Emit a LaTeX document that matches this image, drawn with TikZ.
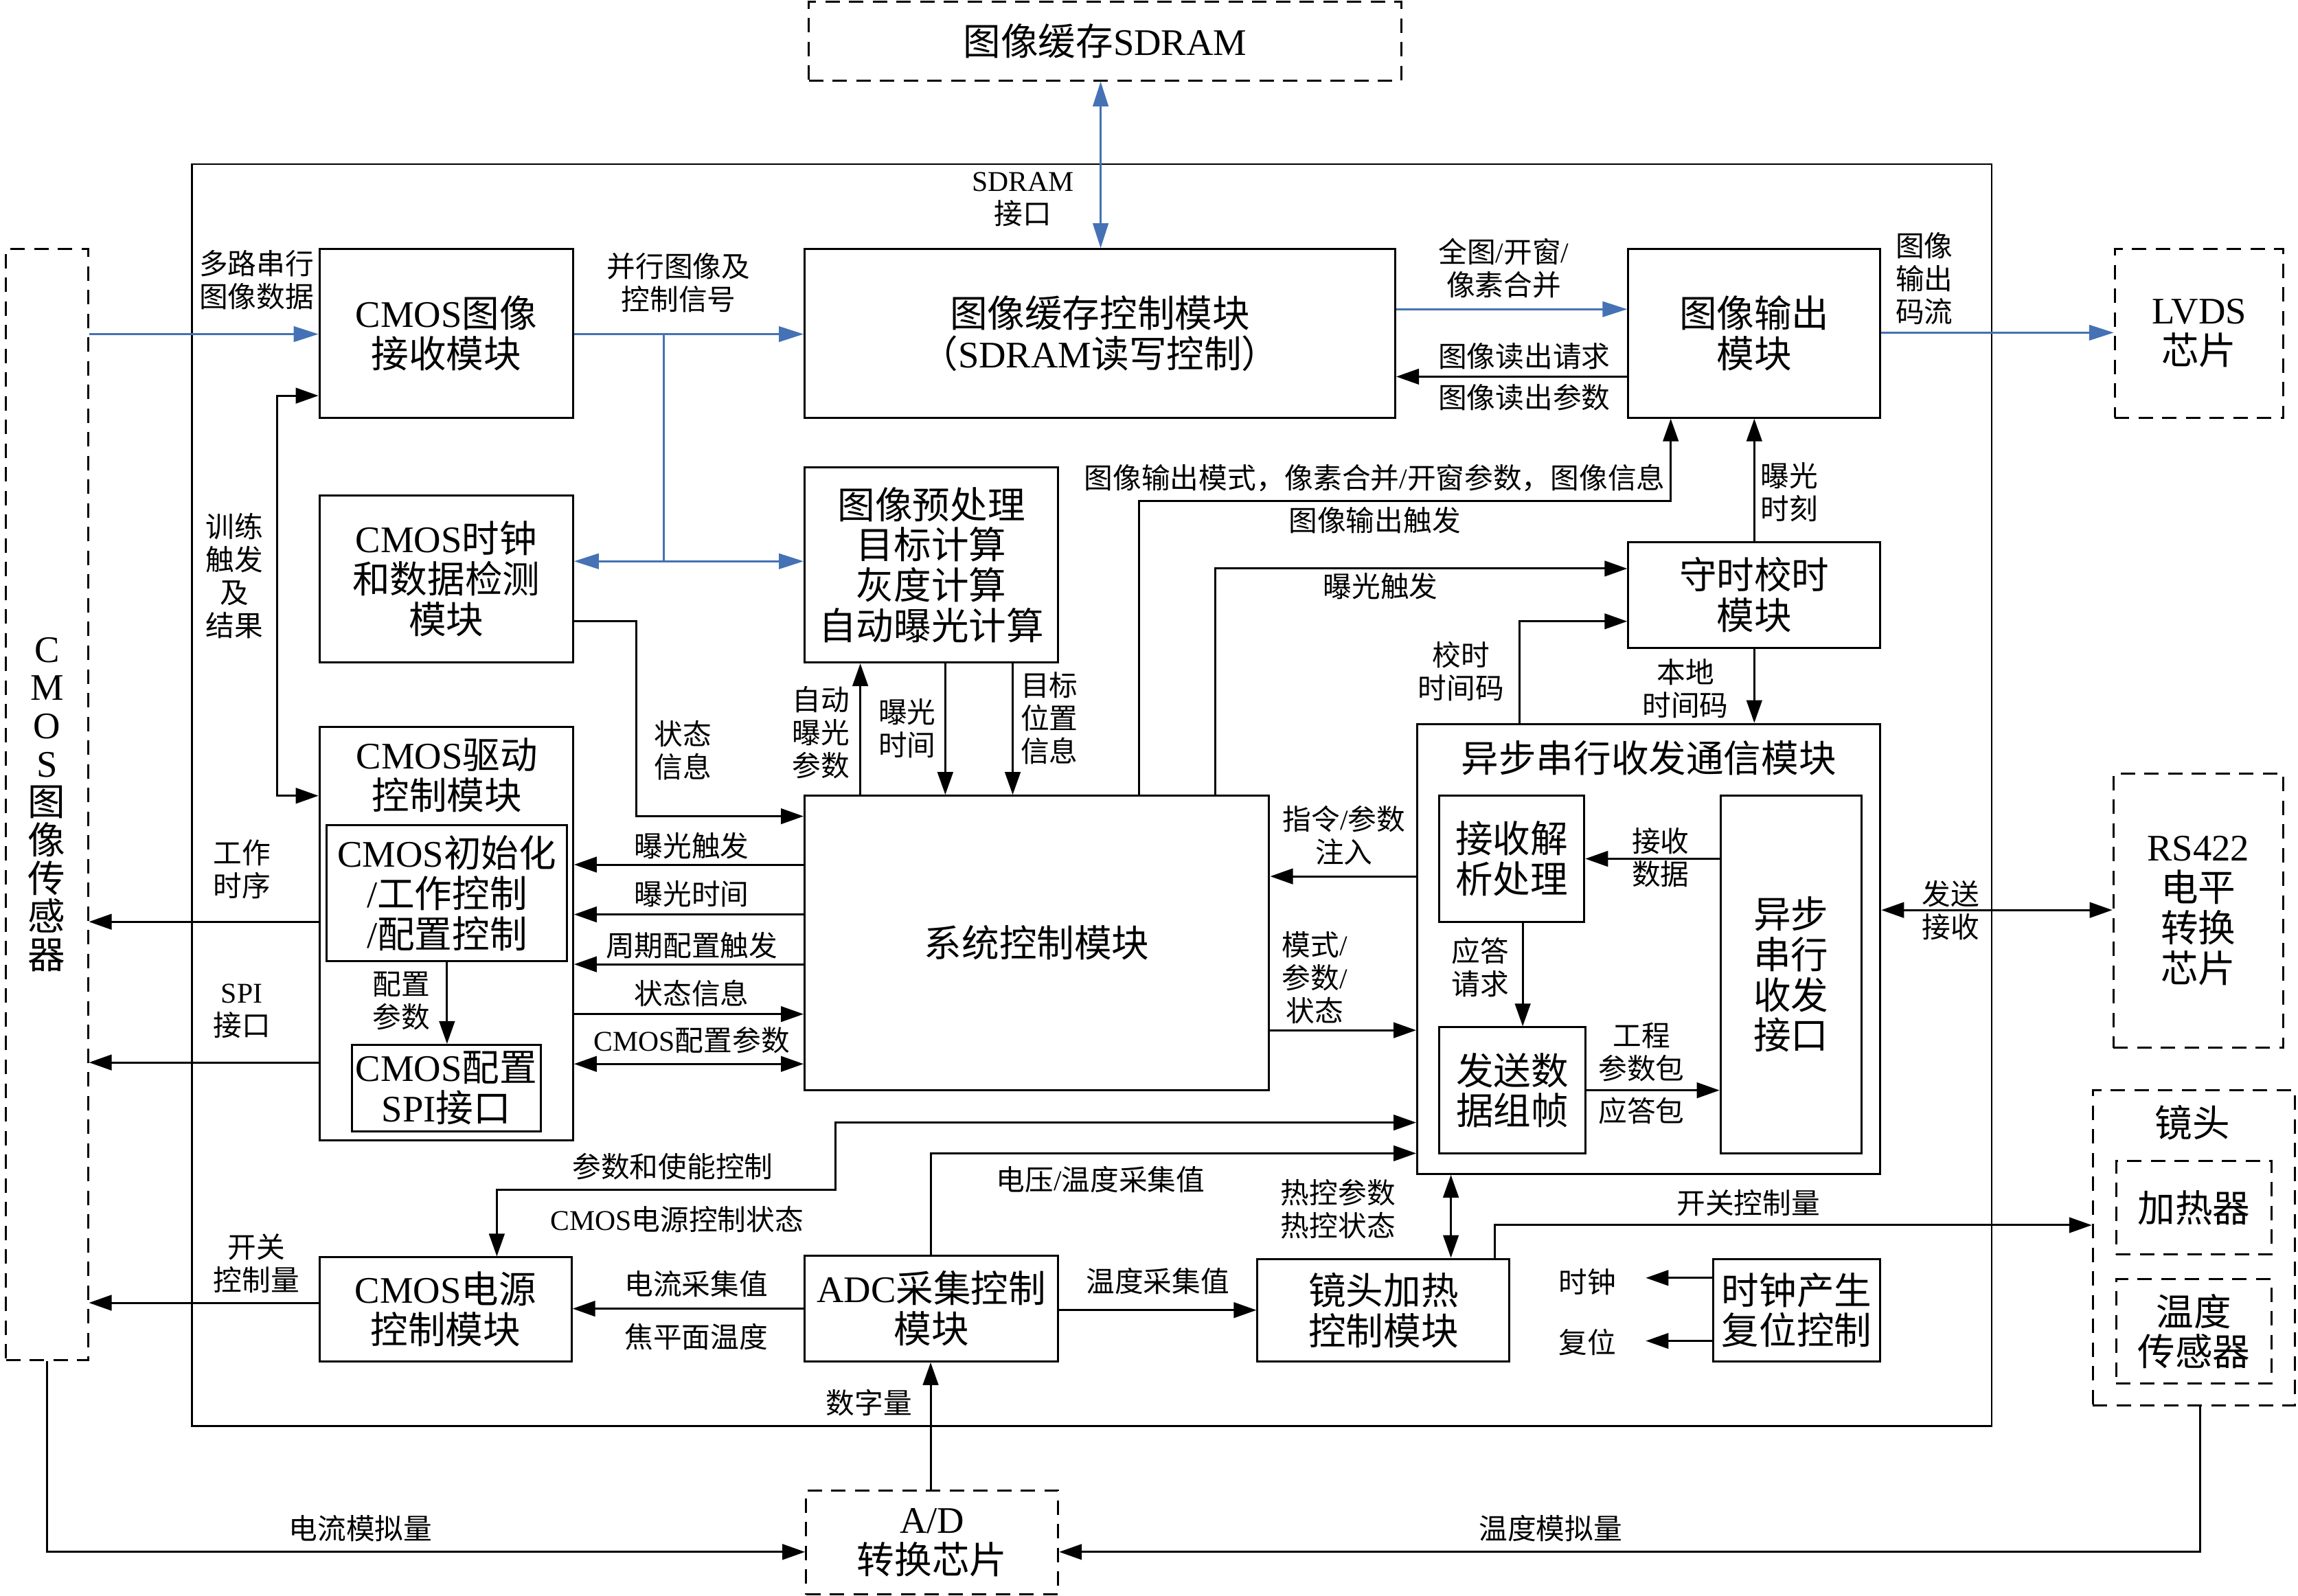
\documentclass[tikz,border=0pt]{standalone}
\usepackage{fontspec}
\setmainfont{Liberation Serif}
\newfontfamily\cjkf{Noto Sans CJK SC}
\usetikzlibrary{arrows.meta,fit,calc}
\XeTeXinterchartokenstate=1
\newXeTeXintercharclass\CJKcls
\newcount\cjkn
\cjkn="4E00
\loop \XeTeXcharclass\cjkn=\CJKcls \advance\cjkn by 1 \ifnum\cjkn<"A000 \repeat
\cjkn="3000
\loop \XeTeXcharclass\cjkn=\CJKcls \advance\cjkn by 1 \ifnum\cjkn<"3040 \repeat
\cjkn="FF00
\loop \XeTeXcharclass\cjkn=\CJKcls \advance\cjkn by 1 \ifnum\cjkn<"FFF0 \repeat
\XeTeXinterchartoks 0 \CJKcls = {\cjkf}
\XeTeXinterchartoks 4095 \CJKcls = {\cjkf}
\XeTeXinterchartoks \CJKcls 0 = {\rmfamily}
\XeTeXinterchartoks \CJKcls 4095 = {\rmfamily}
\definecolor{myblue}{RGB}{68,114,180}
\newcommand\mainsz{\fontsize{18.2pt}{19.6pt}\selectfont}
\newcommand\smallsz{\fontsize{13.9pt}{16pt}\selectfont}
\tikzset{
  >={Triangle[length=11pt,width=7.5pt]},
  mbox/.style={draw, line width=1pt, inner sep=0pt},
  dbox/.style={mbox, dash pattern=on 7pt off 4.5pt},
  outerbox/.style={draw, line width=0.9pt, inner sep=0pt},
  lab/.style={inner sep=0pt, align=center, font=\smallsz},
  mlab/.style={inner sep=0pt, align=center, font=\mainsz},
  con/.style={line width=1pt, ->},
  con2/.style={line width=1pt, <->},
  bcon/.style={draw=myblue, line width=0.9pt, -{Triangle[length=12pt,width=7.5pt]}},
  bcon2/.style={draw=myblue, line width=0.9pt, {Triangle[length=12pt,width=7.5pt]}-{Triangle[length=12pt,width=7.5pt]}},
  bline/.style={draw=myblue, line width=0.9pt}
}
% box: style, name, x1, y1, x2, y2, text
\newcommand\bx[7]{\node[#1, fit={(#3,#4) (#5,#6)}] (#2) {};
  \node[mlab] (#2T) at (#2.center) {#7};}
\begin{document}
\begin{tikzpicture}[x=0.025cm,y=-0.025cm]
\useasboundingbox (0,0) rectangle (1568,1089);
% outer frame
\node[outerbox, fit={(131,112) (1359,973)}] (fpga) {};
% external devices
\bx{dbox}{sdram}{552}{1}{956}{55}{图像缓存SDRAM}
\node[dbox, fit={(4,170) (60,928)}] (sensor) {};
\node[mlab, font=\fontsize{18.2pt}{18.6pt}\selectfont] (sensorT) at (sensor.center) {C\\M\\O\\S\\图\\像\\传\\感\\器};
\bx{dbox}{lvds}{1443}{170}{1558}{285}{LVDS\\芯片}
\bx{dbox}{rs}{1442}{528}{1558}{715}{RS422\\电平\\转换\\芯片}
\node[dbox, fit={(1428,744) (1566,959)}] (lens) {};
\node[mlab] (lensT) at (1496,766) {镜头};
\bx{dbox}{heater}{1444}{792}{1550}{856}{加热器}
\bx{dbox}{tsens}{1444}{873}{1550}{944}{温度\\传感器}
\bx{dbox}{ad}{550}{1017}{722}{1088}{A/D\\转换芯片}
% internal modules
\bx{mbox}{recv}{218}{170}{391}{285}{CMOS图像\\接收模块}
\bx{mbox}{buf}{549}{170}{952}{285}{图像缓存控制模块\\（SDRAM读写控制）}
\bx{mbox}{out}{1111}{170}{1283}{285}{图像输出\\模块}
\bx{mbox}{clk}{218}{338}{391}{452}{CMOS时钟\\和数据检测\\模块}
\bx{mbox}{pre}{549}{319}{722}{452}{图像预处理\\目标计算\\灰度计算\\自动曝光计算}
\bx{mbox}{tim}{1111}{370}{1283}{442}{守时校时\\模块}
\node[mbox, fit={(218,496) (391,778)}] (drv) {};
\node[mlab] (drvT) at (305,529) {CMOS驱动\\控制模块};
\bx{mbox}{init}{223}{563}{387}{656}{CMOS初始化\\/工作控制\\/配置控制}
\bx{mbox}{spi}{240}{713}{369}{772}{CMOS配置\\SPI接口}
\bx{mbox}{sys}{549}{543}{866}{744}{系统控制模块}
\node[mbox, fit={(967,494) (1283,801)}] (uart) {};
\node[mlab] (uartT) at (1125,517) {异步串行收发通信模块};
\bx{mbox}{rxp}{982}{543}{1081}{629}{接收解\\析处理}
\bx{mbox}{txf}{982}{701}{1082}{787}{发送数\\据组帧}
\bx{mbox}{uif}{1174}{543}{1270}{787}{异步\\串行\\收发\\接口}
\bx{mbox}{pwr}{218}{858}{390}{929}{CMOS电源\\控制模块}
\bx{mbox}{adc}{549}{857}{722}{929}{ADC采集控制\\模块}
\bx{mbox}{heat}{858}{859}{1030}{929}{镜头加热\\控制模块}
\bx{mbox}{rst}{1169}{859}{1283}{929}{时钟产生\\复位控制}
% blue connectors
\draw[bcon] (sensor.east |- 0,228) -- (recv.west |- 0,228);
\draw[bcon] (recv.east |- 0,228) -- (buf.west |- 0,228);
\coordinate (bj1) at (453,228);
\coordinate (bj2) at (453,383);
\draw[bline] (bj1) -- (bj2);
\draw[bcon2] (clk.east |- bj2) -- (pre.west |- bj2);
\draw[bcon2] (sdram.south -| 751,0) -- (buf.north -| 751,0);
\draw[bcon] (buf.east |- 0,211) -- (out.west |- 0,211);
\draw[bcon] (out.east |- 0,227) -- (lvds.west |- 0,227);
% black connectors
\draw[con] (out.west |- 0,257) -- (buf.east |- 0,257);
\draw[con2] (recv.west |- 0,270) -- (189,270) -- (189,543) -- (drv.west |- 0,543);
\draw[con] (clk.east |- 0,424) -- (434,424) -- (434,557) -- (sys.west |- 0,557);
\draw[con] (drv.west |- 0,629) -- (sensor.east |- 0,629);
\draw[con] (drv.west |- 0,725) -- (sensor.east |- 0,725);
\draw[con] (init.south -| 305,0) -- (spi.north -| 305,0);
\draw[con] (sys.west |- 0,590) -- (drv.east |- 0,590);
\draw[con] (sys.west |- 0,624) -- (drv.east |- 0,624);
\draw[con] (sys.west |- 0,658) -- (drv.east |- 0,658);
\draw[con] (drv.east |- 0,692) -- (sys.west |- 0,692);
\draw[con2] (drv.east |- 0,726) -- (sys.west |- 0,726);
\draw[con] (sys.north -| 587,0) -- (pre.south -| 587,0);
\draw[con] (pre.south -| 645,0) -- (sys.north -| 645,0);
\draw[con] (pre.south -| 691,0) -- (sys.north -| 691,0);
\draw[con] (sys.north -| 777,0) -- (777,342) -- (1140,342) -- (out.south -| 1140,0);
\draw[con] (sys.north -| 829,0) -- (829,388) -- (tim.west |- 0,388);
\draw[con] (uart.north -| 1037,0) -- (1037,424) -- (tim.west |- 0,424);
\draw[con] (tim.north -| 1197,0) -- (out.south -| 1197,0);
\draw[con] (tim.south -| 1197,0) -- (uart.north -| 1197,0);
\draw[con] (uart.west |- 0,598) -- (sys.east |- 0,598);
\draw[con] (sys.east |- 0,703) -- (uart.west |- 0,703);
\draw[con] (uif.west |- 0,586) -- (rxp.east |- 0,586);
\draw[con] (rxp.south -| 1039,0) -- (txf.north -| 1039,0);
\draw[con] (txf.east |- 0,744) -- (uif.west |- 0,744);
\draw[con2] (uart.east |- 0,621) -- (rs.west |- 0,621);
\draw[con2] (uart.west |- 0,766) -- (570,766) -- (570,812) -- (339,812) -- (pwr.north -| 339,0);
\draw[con] (adc.north -| 635,0) -- (635,787) -- (uart.west |- 0,787);
\draw[con] (adc.west |- 0,893) -- (pwr.east |- 0,893);
\draw[con] (adc.east |- 0,894) -- (heat.west |- 0,894);
\draw[con2] (uart.south -| 990,0) -- (heat.north -| 990,0);
\draw[con] (heat.north -| 1020,0) -- (1020,836) -- (lens.west |- 0,836);
\coordinate (clkout) at (1123,872);
\coordinate (rstout) at (1123,915);
\draw[con] (rst.west |- clkout) -- (clkout);
\draw[con] (rst.west |- rstout) -- (rstout);
\draw[con] (pwr.west |- 0,889) -- (sensor.east |- 0,889);
\draw[con] (ad.north -| 635,0) -- (adc.south -| 635,0);
\draw[con] (sensor.south -| 32,0) -- (32,1059) -- (ad.west |- 0,1059);
\draw[con] (lens.south -| 1501,0) -- (1501,1059) -- (ad.east |- 0,1059);
% labels
\node[lab] (t1) at (175,191) {多路串行\\图像数据};
\node[lab] (t2) at (463,193) {并行图像及\\控制信号};
\node[lab] (t3) at (698,136) {SDRAM\\接口};
\node[lab] (t4) at (1026,183) {全图/开窗/\\像素合并};
\node[lab] (t5) at (1040,243) {图像读出请求};
\node[lab] (t6) at (1040,271) {图像读出参数};
\node[lab] (t7) at (1313,190) {图像\\输出\\码流};
\node[lab] (t8) at (160,393) {训练\\触发\\及\\结果};
\node[lab] (t9) at (938,326) {图像输出模式，像素合并/开窗参数，图像信息};
\node[lab] (t10) at (938,355) {图像输出触发};
\node[lab] (t11) at (1221,336) {曝光\\时刻};
\node[lab] (t12) at (942,400) {曝光触发};
\node[lab] (t13) at (997,458) {校时\\时间码};
\node[lab] (t14) at (1150,470) {本地\\时间码};
\node[lab] (t15) at (466,512) {状态\\信息};
\node[lab] (t16) at (560,500) {自动\\曝光\\参数};
\node[lab] (t17) at (619,497) {曝光\\时间};
\node[lab] (t18) at (716,490) {目标\\位置\\信息};
\node[lab] (t19) at (917,570) {指令/参数\\注入};
\node[lab] (t20) at (1133,585) {接收\\数据};
\node[lab] (t21) at (1331,621) {发送\\接收};
\node[lab] (t22) at (165,593) {工作\\时序};
\node[lab] (t23) at (472,577) {曝光触发};
\node[lab] (t24) at (472,610) {曝光时间};
\node[lab] (t25) at (472,645) {周期配置触发};
\node[lab] (t26) at (472,678) {状态信息};
\node[lab] (t27) at (472,710) {CMOS配置参数};
\node[lab] (t28) at (897,667) {模式/\\参数/\\状态};
\node[lab] (t29) at (1010,660) {应答\\请求};
\node[lab] (t30) at (1120,718) {工程\\参数包};
\node[lab] (t31) at (1120,758) {应答包};
\node[lab] (t32) at (274,683) {配置\\参数};
\node[lab] (t33) at (165,690) {SPI\\接口};
\node[lab] (t34) at (459,796) {参数和使能控制};
\node[lab] (t35) at (462,832) {CMOS电源控制状态};
\node[lab] (t36) at (751,805) {电压/温度采集值};
\node[lab] (t37) at (913,825) {热控参数\\热控状态};
\node[lab] (t38) at (1193,821) {开关控制量};
\node[lab] (t39) at (175,862) {开关\\控制量};
\node[lab] (t40) at (475,876) {电流采集值};
\node[lab] (t41) at (475,912) {焦平面温度};
\node[lab] (t42) at (790,874) {温度采集值};
\node[lab] (t43) at (1083,875) {时钟};
\node[lab] (t44) at (1083,916) {复位};
\node[lab] (t45) at (593,957) {数字量};
\node[lab] (t46) at (246,1043) {电流模拟量};
\node[lab] (t47) at (1058,1043) {温度模拟量};
\end{tikzpicture}
\end{document}
